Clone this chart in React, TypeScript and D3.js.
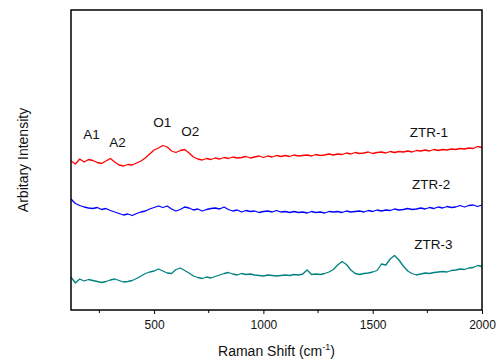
import React, { useEffect, useRef } from "react";
import * as d3 from "d3";

// Raman shift positions (cm-1), sampled every 20
const shifts = [
  120, 140, 160, 180, 200, 220, 240, 260, 280, 300, 320, 340, 360, 380, 400, 420, 440, 460, 480, 500,
  520, 540, 560, 580, 600, 620, 640, 660, 680, 700, 720, 740, 760, 780, 800, 820, 840, 860, 880, 900,
  920, 940, 960, 980, 1000, 1020, 1040, 1060, 1080, 1100, 1120, 1140, 1160, 1180, 1200, 1220, 1240, 1260, 1280, 1300,
  1320, 1340, 1360, 1380, 1400, 1420, 1440, 1460, 1480, 1500, 1520, 1540, 1560, 1580, 1600, 1620, 1640, 1660, 1680, 1700,
  1720, 1740, 1760, 1780, 1800, 1820, 1840, 1860, 1880, 1900, 1920, 1940, 1960, 1980, 2000,
];

const ztr1 = [
  149, 146, 151, 148, 150.5, 149.5, 147.5, 146.5, 149, 151.5, 148, 145, 144, 145.5, 145, 147, 149, 152, 156, 160,
  162, 164.5, 163, 159, 157.5, 159.5, 160.5, 157, 153, 151, 150, 151.5, 150.5, 152, 151, 152.5, 151.5, 153, 152, 152.5,
  153.5, 152, 153, 154, 152.5, 154, 153, 154.5, 153.5, 154.5, 153.5, 155, 154, 154.5, 155, 154, 155.5, 154.5, 155, 156,
  155, 156, 155.5, 157, 156, 157.5, 156.5, 157, 158, 156.5, 157.5, 158, 157, 158.5, 157.5, 158.5, 158, 159, 158, 159.5,
  159, 160, 159, 160.5, 159.5, 160.5, 160, 161, 160.5, 161.5, 161, 162, 161.5, 163.5, 162.5,
];

const ztr2 = [
  111, 106.5, 104.5, 103, 102, 101.5, 102.5, 100.5, 101.5, 99.5, 98, 96.5, 95, 96, 94.5, 96.5, 98, 99, 101, 102.5,
  104, 102.5, 104, 101, 99, 100.5, 103, 102, 100, 101, 99, 100.5, 101.5, 102, 101, 103, 100.5, 99, 100, 98,
  99.5, 98.5, 99, 97.5, 98.5, 99, 98, 99.5, 98, 98.5, 97.5, 98.5, 97.5, 98, 97, 98.5, 97.5, 98, 97, 98.5,
  98, 98.5, 97.5, 99, 98, 98.5, 99, 98, 99.5, 98.5, 100, 99, 100, 99.5, 101, 100, 100.5, 101.5, 100.5, 101,
  102, 101, 102.5, 101.5, 103, 102, 103.5, 102.5, 103, 104.5, 103, 104.5, 105, 103.5, 105,
];

const ztr3 = [
  33, 27, 31, 29, 30.5, 29.5, 28.5, 27.5, 28.5, 30, 31, 29.5, 28, 28.5, 29.5, 31.5, 34, 36.5, 38, 39,
  41, 39, 37, 36.5, 40.5, 42, 39.5, 37, 34, 32.5, 31.5, 33, 32, 33.5, 35, 36.5, 37.5, 36, 35, 36.5,
  35.5, 36, 35, 34.5, 34, 35, 34.5, 34, 34.5, 35, 34.5, 35.5, 35, 36, 40, 35.5, 36, 35.5, 36.5, 38,
  40.5, 45, 48.5, 45.5, 40, 36.5, 35.5, 36.5, 37, 38, 39.5, 46, 45, 51, 54.5, 50, 44, 39, 36.5, 35,
  36, 37, 36.5, 37.5, 38, 38.5, 38, 39.5, 40, 41, 40.5, 42, 42.5, 44.5, 43.5,
];

const seriesNames = ["ZTR-1", "ZTR-2", "ZTR-3"];
const seriesColors = ["#ff0000", "#0000ff", "#008080"];
const majorTicks = [500, 1000, 1500, 2000];
const minorTicks = [250, 750, 1250, 1750];

// peak labels: [label, shift, intensity]
const peakLabels: [string, number, number][] = [
  ["A1", 214, 171],
  ["A2", 333, 163],
  ["O1", 537, 183],
  ["O2", 665, 174],
];
// series labels: [shift, intensity]
const seriesLabelPos: [number, number][] = [
  [1670, 173],
  [1680, 121],
  [1690, 61],
];

const W = 499;
const H = 362;
const margin = { top: 10, right: 17, bottom: 52, left: 71 };

export default function App() {
  const ref = useRef<SVGSVGElement>(null);

  useEffect(() => {
    const node = ref.current;
    if (!node) return;
    const svg = d3.select(node);
    svg.selectAll("*").remove();

    const x = d3.scaleLinear().domain([120, 2000]).range([margin.left, W - margin.right]);
    const y = d3.scaleLinear().domain([0, 300]).range([H - margin.bottom, margin.top]);
    const font = "Arial, 'Liberation Sans', sans-serif";

    const series = [ztr1, ztr2, ztr3];
    const line = d3
      .line<number>()
      .x((_, i) => x(shifts[i]))
      .y((d) => y(d));

    svg
      .append("g")
      .selectAll("path")
      .data(series)
      .join("path")
      .attr("d", (d) => line(d))
      .attr("fill", "none")
      .attr("stroke", (_, i) => seriesColors[i])
      .attr("stroke-width", 1.3)
      .attr("stroke-linejoin", "round");

    // frame
    svg
      .append("rect")
      .attr("x", margin.left)
      .attr("y", margin.top)
      .attr("width", W - margin.left - margin.right)
      .attr("height", H - margin.top - margin.bottom)
      .attr("fill", "none")
      .attr("stroke", "black")
      .attr("stroke-width", 1.5);

    const xAxis = svg.append("g").attr("transform", `translate(0,${H - margin.bottom})`);
    xAxis
      .call(
        d3.axisBottom(x).tickValues(majorTicks).tickFormat(d3.format("d")).tickSize(4).tickSizeOuter(0).tickPadding(6)
      )
      .call((g) => g.select(".domain").remove())
      .call((g) => g.selectAll("text").attr("font-size", 12).attr("font-family", font).attr("fill", "#111"));
    xAxis
      .selectAll(".minor")
      .data(minorTicks)
      .join("line")
      .attr("x1", (d) => x(d))
      .attr("x2", (d) => x(d))
      .attr("y1", 0)
      .attr("y2", 3)
      .attr("stroke", "black");

    const xl = svg
      .append("text")
      .attr("x", (margin.left + W - margin.right) / 2)
      .attr("y", 356)
      .attr("text-anchor", "middle")
      .attr("font-size", 14)
      .attr("font-family", font)
      .attr("fill", "#111");
    xl.append("tspan").text("Raman Shift (cm");
    xl.append("tspan").text("-1").attr("font-size", 9).attr("dy", -6);
    xl.append("tspan").text(")").attr("dy", 6);

    svg
      .append("text")
      .attr("transform", `translate(28,${(margin.top + H - margin.bottom) / 2}) rotate(-90)`)
      .attr("text-anchor", "middle")
      .attr("font-size", 14)
      .attr("font-family", font)
      .attr("fill", "#111")
      .text("Arbitary Intensity");

    svg
      .append("g")
      .selectAll("text")
      .data(peakLabels)
      .join("text")
      .attr("x", (d) => x(d[1]))
      .attr("y", (d) => y(d[2]))
      .attr("text-anchor", "middle")
      .attr("font-size", 13.5)
      .attr("font-family", font)
      .attr("fill", "#111")
      .text((d) => d[0]);

    svg
      .append("g")
      .selectAll("text")
      .data(seriesLabelPos)
      .join("text")
      .attr("x", (d) => x(d[0]))
      .attr("y", (d) => y(d[1]))
      .attr("font-size", 13.5)
      .attr("font-family", font)
      .attr("fill", "#111")
      .text((_, i) => seriesNames[i]);
  }, []);

  return <svg ref={ref} width={W} height={H} style={{ position: "absolute", left: 0, top: 0 }} />;
}
